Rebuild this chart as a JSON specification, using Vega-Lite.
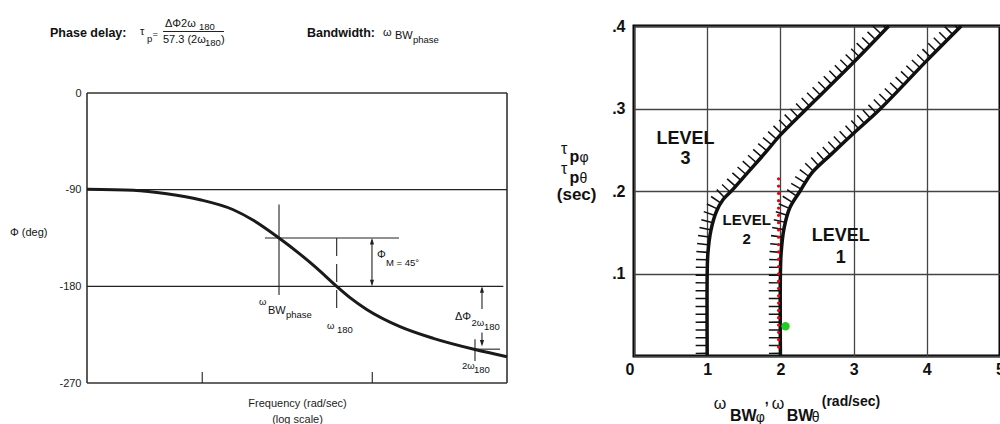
{
  "$schema": "https://vega.github.io/schema/vega-lite/v6.json",
  "background": "white",
  "padding": {"left": 10, "top": 16, "right": 0, "bottom": 0},
  "config": {"font": "Liberation Sans", "view": {"stroke": null}},
  "spacing": 42,
  "datasets": {
    "lcurve": [
      {"f": 0.21, "ph": -89.5}, {"f": 0.393, "ph": -90.6}, {"f": 0.618, "ph": -93.9}, {"f": 0.97, "ph": -99.4},
      {"f": 1.523, "ph": -108.7}, {"f": 1.996, "ph": -118.5}, {"f": 2.828, "ph": -135}, {"f": 3.757, "ph": -150},
      {"f": 4.711, "ph": -163}, {"f": 6.176, "ph": -180}, {"f": 7.396, "ph": -190.5}, {"f": 9.273, "ph": -201.5},
      {"f": 14.56, "ph": -217.5}, {"f": 22.85, "ph": -228.4}, {"f": 40.19, "ph": -238.8}, {"f": 62, "ph": -245.5}
    ],
    "lframe": [
      {"f": 0.21, "f2": 62, "ph": 0, "ph2": 0},
      {"f": 0.21, "f2": 62, "ph": -270, "ph2": -270},
      {"f": 0.21, "f2": 0.21, "ph": -270, "ph2": 0},
      {"f": 62, "f2": 62, "ph": -270, "ph2": 0}
    ],
    "lseg": [
      {"f": 0.21, "f2": 62, "ph": -90, "ph2": -90},
      {"f": 0.21, "f2": 59, "ph": -180, "ph2": -180},
      {"f": 2.828, "f2": 2.828, "ph": -103.8, "ph2": -188},
      {"f": 2.339, "f2": 14.36, "ph": -135, "ph2": -135},
      {"f": 9.96, "f2": 9.96, "ph": -137, "ph2": -178},
      {"f": 44.18, "f2": 44.18, "ph": -182, "ph2": -201},
      {"f": 44.18, "f2": 44.18, "ph": -223, "ph2": -234},
      {"f": 39.28, "f2": 56.4, "ph": -238.5, "ph2": -238.5},
      {"f": 40.19, "f2": 40.19, "ph": -229.3, "ph2": -249.6},
      {"f": 1, "f2": 1, "ph": -270, "ph2": -259.8},
      {"f": 10, "f2": 10, "ph": -270, "ph2": -259.8},
      {"f": 0.5876, "f2": 1.342, "ph": 57.3, "ph2": 57.3}
    ],
    "ldash": [{"f": 6.176, "f2": 6.176, "ph": -135, "ph2": -201}],
    "larrow": [
      {"f": 9.96, "ph": -135, "dir": "up"}, {"f": 44.18, "ph": -180, "dir": "up"},
      {"f": 9.96, "ph": -180, "dir": "down"}, {"f": 44.18, "ph": -236, "dir": "down"}
    ],
    "ltext": [
      {"text": "Phase delay:", "f": 0.1273, "ph": 55.4, "role": "bold"},
      {"text": "τ", "f": 0.4305, "ph": 56.8, "role": "main"},
      {"text": "p", "f": 0.4732, "ph": 50.3, "role": "sub"},
      {"text": "=", "f": 0.5097, "ph": 54.9, "role": "sub"},
      {"text": "ΔΦ2ω", "f": 0.6037, "ph": 64.2, "role": "main"},
      {"text": "180", "f": 0.957, "ph": 61.0, "role": "sub"},
      {"text": "57.3 (2ω", "f": 0.5876, "ph": 49.3, "role": "main"},
      {"text": "180", "f": 1.038, "ph": 46.1, "role": "sub"},
      {"text": ")", "f": 1.289, "ph": 49.3, "role": "main"},
      {"text": "Bandwidth:", "f": 4.131, "ph": 55.4, "role": "bold"},
      {"text": "ω", "f": 11.56, "ph": 56.3, "role": "main"},
      {"text": "BW", "f": 13.61, "ph": 53.1, "role": "main"},
      {"text": "phase", "f": 17.36, "ph": 49.3, "role": "sub"},
      {"text": "Φ (deg)", "f": 0.07403, "ph": -130, "role": "main"},
      {"text": "ω", "f": 2.157, "ph": -195, "role": "sub"},
      {"text": "BW", "f": 2.436, "ph": -202.7, "role": "main"},
      {"text": "phase", "f": 3.109, "ph": -206.7, "role": "sub"},
      {"text": "ω", "f": 5.417, "ph": -216.9, "role": "sub"},
      {"text": "180", "f": 6.201, "ph": -220.4, "role": "sub"},
      {"text": "Φ", "f": 10.66, "ph": -151.2, "role": "main"},
      {"text": "M = 45°", "f": 12.04, "ph": -158.1, "role": "sub"},
      {"text": "ΔΦ", "f": 30.66, "ph": -208.9, "role": "main"},
      {"text": "2ω", "f": 38.33, "ph": -214.2, "role": "sub"},
      {"text": "180", "f": 45.4, "ph": -217.8, "role": "sub"},
      {"text": "2ω", "f": 33.71, "ph": -254.1, "role": "sub"},
      {"text": "180", "f": 39.65, "ph": -258.1, "role": "sub"}
    ],
    "rcurve": [
      {"b": "L23", "i": 0, "x": 1.0, "y": 0}, {"b": "L23", "i": 1, "x": 1.0, "y": 0.1}, {"b": "L23", "i": 2, "x": 1.01, "y": 0.125},
      {"b": "L23", "i": 3, "x": 1.05, "y": 0.152}, {"b": "L23", "i": 4, "x": 1.13, "y": 0.176}, {"b": "L23", "i": 5, "x": 1.22, "y": 0.19},
      {"b": "L23", "i": 6, "x": 1.33, "y": 0.2}, {"b": "L23", "i": 7, "x": 1.55, "y": 0.222}, {"b": "L23", "i": 8, "x": 1.8, "y": 0.247},
      {"b": "L23", "i": 9, "x": 2.0, "y": 0.268}, {"b": "L23", "i": 10, "x": 2.5, "y": 0.312}, {"b": "L23", "i": 11, "x": 3.0, "y": 0.356},
      {"b": "L23", "i": 12, "x": 3.48, "y": 0.4},
      {"b": "L12", "i": 0, "x": 2.0, "y": 0}, {"b": "L12", "i": 1, "x": 2.0, "y": 0.1}, {"b": "L12", "i": 2, "x": 2.01, "y": 0.125},
      {"b": "L12", "i": 3, "x": 2.05, "y": 0.155}, {"b": "L12", "i": 4, "x": 2.13, "y": 0.18}, {"b": "L12", "i": 5, "x": 2.27, "y": 0.2},
      {"b": "L12", "i": 6, "x": 2.43, "y": 0.222}, {"b": "L12", "i": 7, "x": 2.7, "y": 0.245}, {"b": "L12", "i": 8, "x": 3.0, "y": 0.27},
      {"b": "L12", "i": 9, "x": 3.37, "y": 0.3}, {"b": "L12", "i": 10, "x": 4.0, "y": 0.358}, {"b": "L12", "i": 11, "x": 4.47, "y": 0.4}
    ],
    "rred": [{"x": 1.975, "y": 0.011}, {"x": 1.975, "y": 0.216}],
    "rgreen": [{"x": 2.07, "y": 0.036}],
    "rtext": [
      {"text": "LEVEL", "x": 0.705, "y": 0.2632, "role": "lvl"}, {"text": "3", "x": 0.705, "y": 0.2388, "role": "lvl"},
      {"text": "LEVEL", "x": 1.539, "y": 0.1653, "role": "lvl2"}, {"text": "2", "x": 1.539, "y": 0.142, "role": "lvl2"},
      {"text": "LEVEL", "x": 2.824, "y": 0.1455, "role": "lvl"}, {"text": "1", "x": 2.824, "y": 0.119, "role": "lvl"},
      {"text": "τ", "x": -0.996, "y": 0.251, "role": "tau"},
      {"text": "p", "x": -0.88, "y": 0.2407, "role": "pb"},
      {"text": "φ", "x": -0.745, "y": 0.2401, "role": "greek"},
      {"text": "τ", "x": -0.996, "y": 0.2268, "role": "tau"},
      {"text": "p", "x": -0.88, "y": 0.2159, "role": "pb"},
      {"text": "θ", "x": -0.745, "y": 0.2141, "role": "greek"},
      {"text": "(sec)", "x": -0.784, "y": 0.1953, "role": "sec"},
      {"text": "ω", "x": 1.091, "y": -0.0578, "role": "omega"},
      {"text": "BW", "x": 1.31, "y": -0.0723, "role": "bw"},
      {"text": "φ", "x": 1.664, "y": -0.0747, "role": "greek"},
      {"text": ",", "x": 1.787, "y": -0.0530, "role": "rad"},
      {"text": "ω", "x": 1.883, "y": -0.0578, "role": "omega"},
      {"text": "BW", "x": 2.087, "y": -0.0723, "role": "bw"},
      {"text": "θ", "x": 2.428, "y": -0.0747, "role": "greek"},
      {"text": "(rad/sec)", "x": 2.565, "y": -0.0553, "role": "rad"}
    ]
  },
  "hconcat": [
    {
      "width": 420,
      "height": 357,
      "encoding": {
        "x": {"field": "f", "type": "quantitative",
          "scale": {"type": "log", "domain": [0.21, 62], "nice": false},
          "axis": {"title": ["Frequency (rad/sec)", "(log scale)"], "labels": false, "ticks": false, "domain": false, "grid": false,
            "titleFontSize": 11, "titleFontWeight": "normal", "titleColor": "#222", "titlePadding": 14, "titleLineHeight": 16}},
        "y": {"field": "ph", "type": "quantitative",
          "scale": {"domain": [-270, 62.38], "nice": false, "zero": false},
          "axis": {"title": null, "values": [0, -90, -180, -270], "labelExpr": "'' + datum.value", "ticks": false, "domain": false, "grid": false,
            "labelFontSize": 11, "labelColor": "#222", "labelPadding": 6}}
      },
      "layer": [
        {"data": {"name": "lframe"}, "mark": {"type": "rule", "color": "#333", "strokeWidth": 1.6},
          "encoding": {"x2": {"field": "f2"}, "y2": {"field": "ph2"}}},
        {"data": {"name": "lseg"}, "mark": {"type": "rule", "color": "#222", "strokeWidth": 1.1},
          "encoding": {"x2": {"field": "f2"}, "y2": {"field": "ph2"}}},
        {"data": {"name": "ldash"}, "mark": {"type": "rule", "color": "#222", "strokeWidth": 1.1, "strokeDash": [18, 8]},
          "encoding": {"x2": {"field": "f2"}, "y2": {"field": "ph2"}}},
        {"data": {"name": "lcurve"}, "mark": {"type": "line", "color": "#1a1a1a", "strokeWidth": 3, "interpolate": "monotone"}},
        {"data": {"name": "larrow"}, "transform": [{"filter": "datum.dir == 'up'"}],
          "mark": {"type": "point", "shape": "M0,0L0.32,1L-0.32,1Z", "filled": true, "color": "#222", "size": 170, "opacity": 1}},
        {"data": {"name": "larrow"}, "transform": [{"filter": "datum.dir == 'down'"}],
          "mark": {"type": "point", "shape": "M0,0L0.32,-1L-0.32,-1Z", "filled": true, "color": "#222", "size": 170, "opacity": 1}},
        {"data": {"name": "ltext"}, "transform": [{"filter": "datum.role == 'bold'"}],
          "mark": {"type": "text", "align": "left", "baseline": "middle", "fontSize": 12.5, "fontWeight": "bold", "color": "#111"},
          "encoding": {"text": {"field": "text"}}},
        {"data": {"name": "ltext"}, "transform": [{"filter": "datum.role == 'main'"}],
          "mark": {"type": "text", "align": "left", "baseline": "middle", "fontSize": 11, "color": "#111"},
          "encoding": {"text": {"field": "text"}}},
        {"data": {"name": "ltext"}, "transform": [{"filter": "datum.role == 'sub'"}],
          "mark": {"type": "text", "align": "left", "baseline": "middle", "fontSize": 9.5, "color": "#111"},
          "encoding": {"text": {"field": "text"}}}
      ]
    },
    {
      "width": 366,
      "height": 330,
      "view": {"stroke": "#000", "strokeWidth": 3},
      "encoding": {
        "x": {"field": "x", "type": "quantitative",
          "scale": {"domain": [0, 5], "nice": false},
          "axis": {"title": null, "values": [0, 1, 2, 3, 4, 5], "format": "d", "grid": true, "gridColor": "#444", "gridWidth": 1.3,
            "ticks": false, "domain": false, "labelFontSize": 16, "labelFontWeight": "bold", "labelColor": "#111", "labelPadding": 5,
            "labelAlign": {"condition": {"test": "datum.value == 0", "value": "right"}, "value": "center"}}},
        "y": {"field": "y", "type": "quantitative",
          "scale": {"domain": [0, 0.4], "nice": false},
          "axis": {"title": null, "values": [0, 0.1, 0.2, 0.3, 0.4], "format": ".1f",
            "labelExpr": "datum.value == 0 ? '' : replace(datum.label, '0.', '.')",
            "grid": true, "gridColor": "#444", "gridWidth": 1.3, "ticks": false, "domain": false,
            "labelFontSize": 16, "labelFontWeight": "bold", "labelColor": "#111", "labelPadding": 9}}
      },
      "layer": [
        {"data": {"name": "rcurve"},
          "mark": {"type": "line", "color": "#111", "strokeWidth": 11, "strokeDash": [1.5, 6.3], "strokeCap": "butt", "interpolate": "catmull-rom", "xOffset": -6, "yOffset": -2, "clip": true},
          "encoding": {"detail": {"field": "b"}, "order": {"field": "i"}}},
        {"data": {"name": "rcurve"},
          "mark": {"type": "line", "color": "#111", "strokeWidth": 3.5, "interpolate": "catmull-rom"},
          "encoding": {"detail": {"field": "b"}, "order": {"field": "i"}}},
        {"data": {"name": "rred"},
          "mark": {"type": "line", "color": "#e8000b", "strokeWidth": 3.2, "strokeDash": [0.01, 7.3], "strokeCap": "round"},
          "encoding": {}},
        {"data": {"name": "rgreen"},
          "mark": {"type": "point", "filled": true, "color": "#22cc22", "size": 70, "opacity": 1}},
        {"data": {"name": "rtext"}, "transform": [{"filter": "datum.role == 'lvl'"}],
          "mark": {"type": "text", "align": "center", "baseline": "middle", "fontSize": 18, "fontWeight": "bold", "color": "#111"},
          "encoding": {"text": {"field": "text"}}},
        {"data": {"name": "rtext"}, "transform": [{"filter": "datum.role == 'lvl2'"}],
          "mark": {"type": "text", "align": "center", "baseline": "middle", "fontSize": 15, "fontWeight": "bold", "color": "#111"},
          "encoding": {"text": {"field": "text"}}},
        {"data": {"name": "rtext"}, "transform": [{"filter": "datum.role == 'tau' || datum.role == 'omega'"}],
          "mark": {"type": "text", "align": "left", "baseline": "middle", "fontSize": 16, "color": "#111"},
          "encoding": {"text": {"field": "text"}}},
        {"data": {"name": "rtext"}, "transform": [{"filter": "datum.role == 'pb' || datum.role == 'bw'"}],
          "mark": {"type": "text", "align": "left", "baseline": "middle", "fontSize": 16, "fontWeight": "bold", "color": "#111"},
          "encoding": {"text": {"field": "text"}}},
        {"data": {"name": "rtext"}, "transform": [{"filter": "datum.role == 'greek'"}],
          "mark": {"type": "text", "align": "left", "baseline": "middle", "fontSize": 14, "color": "#111"},
          "encoding": {"text": {"field": "text"}}},
        {"data": {"name": "rtext"}, "transform": [{"filter": "datum.role == 'sec'"}],
          "mark": {"type": "text", "align": "center", "baseline": "middle", "fontSize": 17, "fontWeight": "bold", "color": "#111"},
          "encoding": {"text": {"field": "text"}}},
        {"data": {"name": "rtext"}, "transform": [{"filter": "datum.role == 'rad'"}],
          "mark": {"type": "text", "align": "left", "baseline": "middle", "fontSize": 14, "fontWeight": "bold", "color": "#111"},
          "encoding": {"text": {"field": "text"}}}
      ]
    }
  ]
}
